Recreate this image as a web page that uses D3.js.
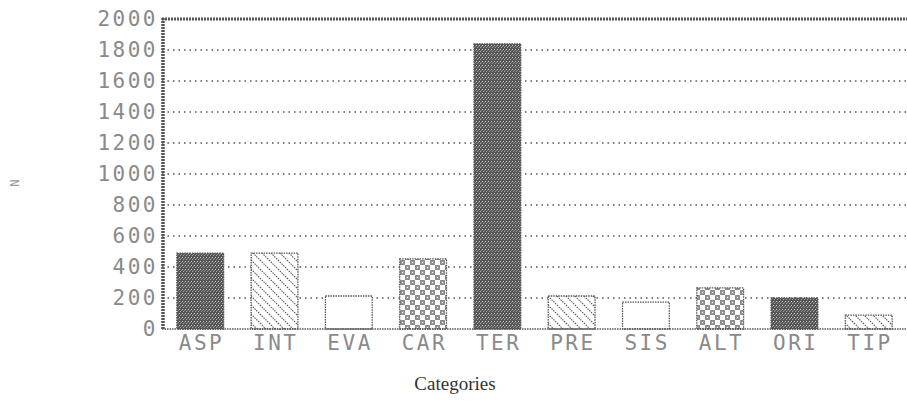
<!DOCTYPE html>
<html><head><meta charset="utf-8">
<script src="https://cdn.jsdelivr.net/npm/d3@7"></script>
<style>body{margin:0;background:#fff}</style>
</head><body>
<svg id="c" width="907" height="402"></svg>
<script>
const categories = ["ASP","INT","EVA","CAR","TER","PRE","SIS","ALT","ORI","TIP"];
const values = [490, 490, 213, 452, 1840, 213, 174, 265, 200, 90];
const patterns = ["dense","diag","empty","check","dense","diag","empty","check","dense","diag"];
const yTicks = [0,200,400,600,800,1000,1200,1400,1600,1800,2000];
const yLabel = "N";
const xLabel = "Categories";

const svg = d3.select("#c");
const m = {l:162, r:907, t:19, b:329};
const x = d3.scaleBand().domain(categories).range([m.l, m.r]).paddingInner(0.37).paddingOuter(0.2);
const y = d3.scaleLinear().domain([0,2000]).range([m.b, m.t]);

const defs = svg.append("defs");
const pd = defs.append("pattern").attr("id","dense").attr("patternUnits","userSpaceOnUse").attr("width",3).attr("height",4);
pd.append("rect").attr("width",3).attr("height",4).attr("fill","#555");
pd.append("rect").attr("x",2).attr("y",1).attr("width",1).attr("height",1).attr("fill","#c8c8c8");
pd.append("rect").attr("x",0).attr("y",3).attr("width",1).attr("height",1).attr("fill","#a0a0a0");
pd.append("rect").attr("x",1).attr("y",2).attr("width",1).attr("height",1).attr("fill","#888");
const pg = defs.append("pattern").attr("id","diag").attr("patternUnits","userSpaceOnUse").attr("width",9).attr("height",9);
pg.append("rect").attr("width",9).attr("height",9).attr("fill","#fff");
pg.append("path").attr("d","M-1,-1 L10,10 M-1,8 L1,10 M8,-1 L10,1").attr("stroke","#555").attr("stroke-width",1.1).attr("stroke-dasharray","1.5,1");
const pc = defs.append("pattern").attr("id","check").attr("patternUnits","userSpaceOnUse").attr("width",10).attr("height",10);
pc.append("rect").attr("width",10).attr("height",10).attr("fill","#fff");
pc.append("rect").attr("x",0.5).attr("y",0.5).attr("width",4).attr("height",4).attr("fill","#999").attr("stroke","#444").attr("stroke-dasharray","1,1");
pc.append("rect").attr("x",5.5).attr("y",5.5).attr("width",4).attr("height",4).attr("fill","#999").attr("stroke","#444").attr("stroke-dasharray","1,1");
pc.append("rect").attr("x",2).attr("y",2).attr("width",1).attr("height",1).attr("fill","#fff");
pc.append("rect").attr("x",7).attr("y",7).attr("width",1).attr("height",1).attr("fill","#fff");

svg.append("g").selectAll("line").data(yTicks.filter(d=>d>0 && d<2000)).join("line")
  .attr("x1",m.l).attr("x2",m.r).attr("y1",d=>y(d)).attr("y2",d=>y(d))
  .attr("stroke","#555").attr("stroke-width",1.3).attr("stroke-dasharray","1.5,4");

svg.append("g").selectAll("rect").data(categories).join("rect")
  .attr("x",d=>x(d)).attr("width",x.bandwidth())
  .attr("y",(d,i)=>y(values[i])).attr("height",(d,i)=>y(0)-y(values[i]))
  .attr("fill",(d,i)=>patterns[i]==="empty"?"#fff":`url(#${patterns[i]})`)
  .attr("stroke","#555").attr("stroke-width",1.3).attr("stroke-dasharray","1.5,1");

svg.append("line").attr("x1",m.l).attr("x2",m.r).attr("y1",y(2000)).attr("y2",y(2000))
  .attr("stroke","#555").attr("stroke-width",3).attr("stroke-dasharray","2,1");
svg.append("line").attr("x1",m.l).attr("x2",m.r).attr("y1",y(0)).attr("y2",y(0))
  .attr("stroke","#555").attr("stroke-width",1.6).attr("stroke-dasharray","1.5,1");
svg.append("line").attr("x1",m.l+1).attr("x2",m.l+1).attr("y1",y(2000)-1).attr("y2",y(0)+1)
  .attr("stroke","#555").attr("stroke-width",3.5).attr("stroke-dasharray","2,1");

const yAxis = d3.axisLeft(y).tickValues(yTicks).tickFormat(d3.format("d")).tickSize(0).tickPadding(4);
const ga = svg.append("g").attr("transform",`translate(${m.l},0)`).call(yAxis);
ga.select(".domain").remove();
ga.selectAll("text").attr("font-family","DejaVu Sans Mono").attr("font-size",21)
  .attr("fill","#8a8a8a").attr("letter-spacing",2.5);

const xAxis = d3.axisBottom(x).tickSize(0).tickPadding(6);
const gx = svg.append("g").attr("transform",`translate(0,${m.b})`).call(xAxis);
gx.select(".domain").remove();
gx.selectAll("text").attr("font-family","DejaVu Sans Mono").attr("font-size",21)
  .attr("fill","#8a8a8a").attr("letter-spacing",2.5).attr("dx","0.06em");

svg.append("text").attr("transform","translate(14,183) rotate(90)").attr("text-anchor","middle")
  .attr("dy","0.35em").attr("font-family","DejaVu Sans Mono").attr("font-size",12).attr("fill","#999").text(yLabel);
svg.append("text").attr("x",455).attr("y",390).attr("text-anchor","middle")
  .attr("font-family","Liberation Serif").attr("font-size",19).attr("fill","#333").text(xLabel);
</script>
</body></html>
